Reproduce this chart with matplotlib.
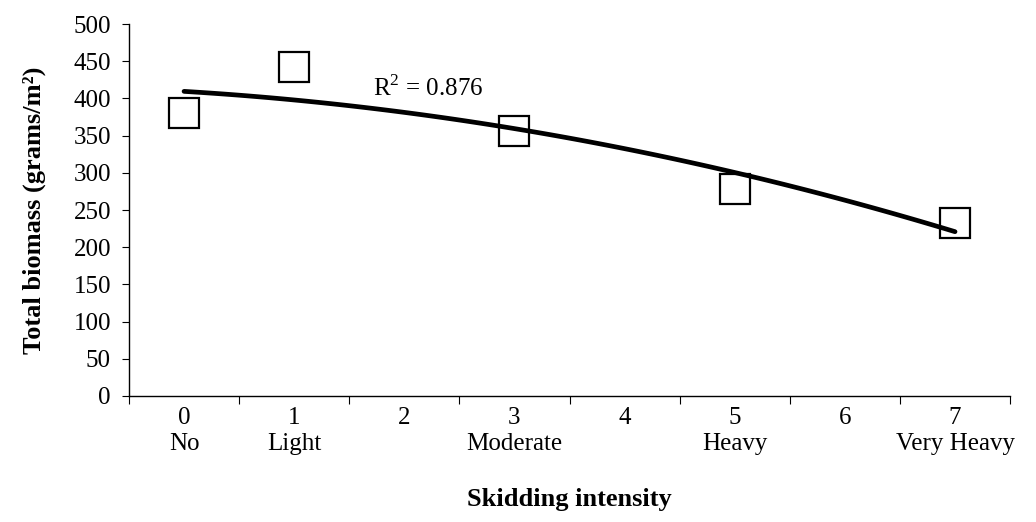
import numpy as np
import matplotlib
matplotlib.use('Agg')
import matplotlib.pyplot as plt
from matplotlib.ticker import FixedLocator

# === DATA ===
intensity = [0, 1, 3, 5, 7]
biomass = [380, 442, 356, 278, 232]      # grams/m2
cat_pos = list(range(8))
cat_labels = ['0\nNo', '1\nLight', '2', '3\nModerate', '4', '5\nHeavy', '6', '7\nVery Heavy']
r2_text = 'R$^2$ = 0.876'

plt.rcParams['font.family'] = ['Liberation Serif', 'DejaVu Serif']
plt.rcParams['mathtext.fontset'] = 'custom'
plt.rcParams['mathtext.rm'] = 'Liberation Serif'

# second-order trend line, as in the original
coef = np.polyfit(intensity, biomass, 2)
xs = np.linspace(min(intensity), max(intensity), 100)
ys = np.polyval(coef, xs)

fig = plt.figure(figsize=(10.36, 5.22), dpi=100)
ax = fig.add_axes([0.1245, 0.2414, 0.8505, 0.7126])

ax.plot(intensity, biomass, ls='none', marker='s', ms=21, mfc='white', mec='black', mew=1.6, zorder=2)
ax.plot(xs, ys, color='black', lw=3.4, solid_capstyle='round', zorder=3)
ax.text(1.72, 414, r2_text, fontsize=18, va='center', ha='left')

ax.set_xlim(-0.5, 7.5)
ax.set_ylim(0, 500)
ax.set_yticks(range(0, 501, 50))
ax.tick_params(axis='y', direction='out', length=5, width=0.8, labelsize=18, pad=8)

ax.xaxis.set_major_locator(FixedLocator(cat_pos))
ax.set_xticklabels(cat_labels, fontsize=18, linespacing=1.2)
ax.xaxis.set_minor_locator(FixedLocator(np.arange(-0.5, 7.6, 1.0)))
ax.tick_params(axis='x', which='major', length=0, pad=8)
ax.tick_params(axis='x', which='minor', direction='out', length=6, width=0.8)

for s in ['top', 'right']:
    ax.spines[s].set_visible(False)
for s in ['left', 'bottom']:
    ax.spines[s].set_linewidth(1.0)

ax.set_ylabel('Total biomass (grams/m²)', fontsize=19, fontweight='bold', labelpad=20)
ax.set_xlabel('Skidding intensity', fontsize=19, fontweight='bold', labelpad=24)

fig.savefig('out.png', dpi=100)
